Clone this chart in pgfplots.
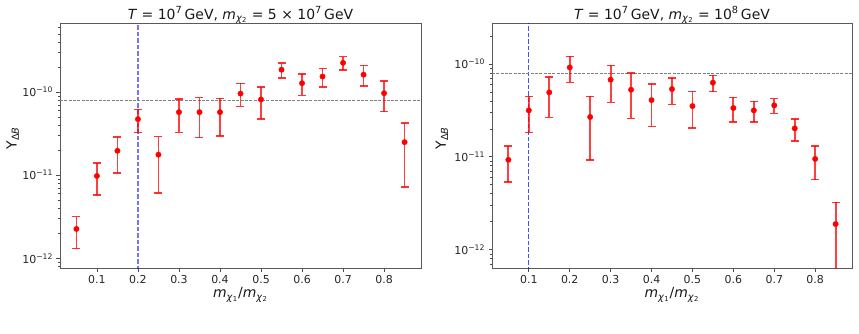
\documentclass[border=0pt]{standalone}
\usepackage{pgfplots}
\pgfplotsset{compat=1.18}
\usepackage{pgfplotstable}
\usepackage{fontspec}
\setmainfont{DejaVu Sans}

% x = m_chi1/m_chi2, y = central value, hi/lo = ends of the error bar
\pgfplotstableread{
x    y        hi       lo
0.05 2.26e-12 3.18e-12 1.31e-12
0.10 9.8e-12  1.40e-11 5.74e-12
0.15 1.97e-11 2.90e-11 1.07e-11
0.20 4.73e-11 6.2e-11  3.27e-11
0.25 1.77e-11 2.92e-11 6.1e-12
0.30 5.74e-11 8.2e-11  3.27e-11
0.35 5.74e-11 8.6e-11  2.84e-11
0.40 5.74e-11 8.4e-11  2.98e-11
0.45 9.6e-11  1.27e-10 6.72e-11
0.50 8.16e-11 1.16e-10 4.73e-11
0.55 1.86e-10 2.23e-10 1.47e-10
0.60 1.28e-10 1.65e-10 9.12e-11
0.65 1.54e-10 1.93e-10 1.16e-10
0.70 2.25e-10 2.67e-10 1.84e-10
0.75 1.62e-10 2.08e-10 1.19e-10
0.80 9.7e-11  1.37e-10 5.84e-11
0.85 2.50e-11 4.24e-11 7.23e-12
}\runA

\pgfplotstableread{
x    y        hi       lo
0.05 9.3e-12  1.32e-11 5.36e-12
0.10 3.17e-11 4.49e-11 1.84e-11
0.15 4.95e-11 7.24e-11 2.66e-11
0.20 9.2e-11  1.21e-10 6.35e-11
0.25 2.69e-11 4.49e-11 9.3e-12
0.30 6.78e-11 9.7e-11  3.86e-11
0.35 5.29e-11 8.0e-11  2.60e-11
0.40 4.09e-11 6.09e-11 2.13e-11
0.45 5.38e-11 7.07e-11 3.68e-11
0.50 3.53e-11 5.08e-11 2.05e-11
0.55 6.3e-11  7.55e-11 5.04e-11
0.60 3.36e-11 4.37e-11 2.39e-11
0.65 3.17e-11 3.96e-11 2.37e-11
0.70 3.59e-11 4.24e-11 2.94e-11
0.75 2.03e-11 2.56e-11 1.48e-11
0.80 9.5e-12  1.32e-11 5.68e-12
0.85 1.89e-12 3.23e-12 1e-14
}\runB

\definecolor{errred}{RGB}{255,0,0}
\definecolor{refblue}{RGB}{0,0,255}

\begin{document}
\begin{tikzpicture}
\useasboundingbox (0,0) rectangle (859bp,334bp);

% left panel: m_chi2 = 5 x 10^7 GeV
\begin{axis}[
  at={(60bp,66bp)}, anchor=south west,
  scale only axis, width=361bp, height=245bp,
  ymode=log, ymin=7.66e-13, ymax=6.78e-10,
  xmin=0.01, xmax=0.89,
  xtick={0.1,0.2,0.3,0.4,0.5,0.6,0.7,0.8},
  xticklabels={0.1,0.2,0.3,0.4,0.5,0.6,0.7,0.8},
  ytick={1e-12,1e-11,1e-10},
  yticklabels={10\textsuperscript{−12},10\textsuperscript{−11},10\textsuperscript{−10}},
  minor ytick={8e-13,9e-13,2e-12,3e-12,4e-12,5e-12,6e-12,7e-12,8e-12,9e-12,
               2e-11,3e-11,4e-11,5e-11,6e-11,7e-11,8e-11,9e-11,
               2e-10,3e-10,4e-10,5e-10,6e-10},
  tick align=outside, xtick pos=left, ytick pos=left,
  major tick length=3.5bp, minor tick length=2bp,
  every tick/.style={black!70, line width=0.8bp},
  axis line style={black!65, line width=0.8bp},
  ticklabel style={font=\fontsize{11}{13}\selectfont, text=black!85},
  label style={font=\fontsize{14}{16}\selectfont, text=black!90},
  every axis title/.style={font=\fontsize{14}{16}\selectfont, text=black!90,
               at={(0.5,1)}, anchor=base, yshift=4bp},
  xlabel style={at={(axis description cs:0.5,-0.11)}, anchor=center},
  ylabel style={at={(axis description cs:-0.131,0.53)}, anchor=center},
  xlabel={\textit{m}\textsubscript{\textit{χ}\textsubscript{1}}/\textit{m}\textsubscript{\textit{χ}\textsubscript{2}}},
  ylabel={Y\textsubscript{Δ\textit{B}}},
  title={\textit{T} = 10\textsuperscript{7}\,GeV, \textit{m}\textsubscript{\textit{χ}\textsubscript{2}} = 5 × 10\textsuperscript{7}\,GeV}]
  \addplot[refblue, opacity=0.55, line width=1.6bp, dash pattern=on 4.5bp off 2bp]
    coordinates {(0.2,1e-13) (0.2,1e-9)};
  \addplot[gray, line width=0.8bp, dash pattern=on 3bp off 1.3bp]
    coordinates {(0.01,8e-11) (0.89,8e-11)};
  \addplot[only marks, mark=*, mark size=2.7bp, errred,
    mark options={fill=errred, draw=errred},
    error bars/y dir=both, error bars/y explicit,
    error bars/error bar style={errred, opacity=0.75, line width=1.8bp},
    error bars/error mark options={rotate=90, errred, opacity=0.8, line width=1.6bp, mark size=4bp}]
    table[x=x, y=y,
      y error plus expr=\thisrow{hi}-\thisrow{y},
      y error minus expr=\thisrow{y}-\thisrow{lo}] {\runA};
\end{axis}

% right panel: m_chi2 = 10^8 GeV
\begin{axis}[
  at={(492bp,66bp)}, anchor=south west,
  scale only axis, width=360bp, height=245bp,
  ymode=log, ymin=6.35e-13, ymax=2.77e-10,
  xmin=0.01, xmax=0.89,
  xtick={0.1,0.2,0.3,0.4,0.5,0.6,0.7,0.8},
  xticklabels={0.1,0.2,0.3,0.4,0.5,0.6,0.7,0.8},
  ytick={1e-12,1e-11,1e-10},
  yticklabels={10\textsuperscript{−12},10\textsuperscript{−11},10\textsuperscript{−10}},
  minor ytick={7e-13,8e-13,9e-13,2e-12,3e-12,4e-12,5e-12,6e-12,7e-12,8e-12,9e-12,
               2e-11,3e-11,4e-11,5e-11,6e-11,7e-11,8e-11,9e-11,2e-10},
  tick align=outside, xtick pos=left, ytick pos=left,
  major tick length=3.5bp, minor tick length=2bp,
  every tick/.style={black!70, line width=0.8bp},
  axis line style={black!65, line width=0.8bp},
  ticklabel style={font=\fontsize{11}{13}\selectfont, text=black!85},
  label style={font=\fontsize{14}{16}\selectfont, text=black!90},
  every axis title/.style={font=\fontsize{14}{16}\selectfont, text=black!90,
               at={(0.5,1)}, anchor=base, yshift=4bp},
  xlabel style={at={(axis description cs:0.5,-0.11)}, anchor=center},
  ylabel style={at={(axis description cs:-0.139,0.53)}, anchor=center},
  xlabel={\textit{m}\textsubscript{\textit{χ}\textsubscript{1}}/\textit{m}\textsubscript{\textit{χ}\textsubscript{2}}},
  ylabel={Y\textsubscript{Δ\textit{B}}},
  title={\textit{T} = 10\textsuperscript{7}\,GeV, \textit{m}\textsubscript{\textit{χ}\textsubscript{2}} = 10\textsuperscript{8}\,GeV}]
  \addplot[refblue, opacity=0.7, line width=1.2bp, dash pattern=on 4.5bp off 2bp]
    coordinates {(0.1,1e-13) (0.1,1e-9)};
  \addplot[gray, line width=0.8bp, dash pattern=on 3bp off 1.3bp]
    coordinates {(0.01,8e-11) (0.89,8e-11)};
  \addplot[only marks, mark=*, mark size=2.7bp, errred,
    mark options={fill=errred, draw=errred},
    error bars/y dir=both, error bars/y explicit,
    error bars/error bar style={errred, opacity=0.75, line width=1.8bp},
    error bars/error mark options={rotate=90, errred, opacity=0.8, line width=1.6bp, mark size=4bp}]
    table[x=x, y=y,
      y error plus expr=\thisrow{hi}-\thisrow{y},
      y error minus expr=\thisrow{y}-\thisrow{lo}] {\runB};
\end{axis}
\end{tikzpicture}
\end{document}
